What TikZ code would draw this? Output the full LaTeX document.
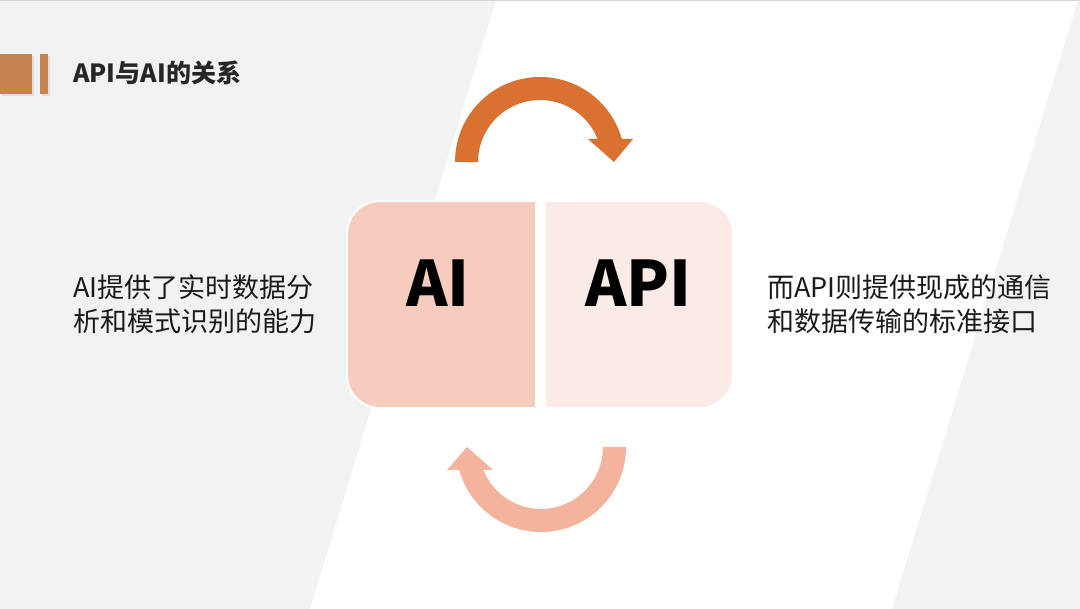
\documentclass[tikz,border=0pt]{standalone}
\usepackage{fontspec}
\setmainfont{Noto Sans CJK SC}
\definecolor{bggray}{HTML}{F2F2F2}
\definecolor{topline}{HTML}{D6D6D6}
\definecolor{titleor}{HTML}{C6854F}
\definecolor{titletxt}{HTML}{262626}
\definecolor{arcor}{HTML}{D97230}
\definecolor{arcsal}{HTML}{F3B39C}
\definecolor{boxl}{HTML}{F6CCBF}
\definecolor{boxr}{HTML}{FAEBE7}
\definecolor{sidetxt}{HTML}{1A1A1A}
\tikzset{
  sidetext/.style={anchor=west, align=left, text=sidetxt, inner sep=0pt,
    font=\fontsize{19.2pt}{24.2pt}\selectfont},
  bigtext/.style={anchor=base, text=black, inner sep=0pt,
    font=\fontsize{44.6pt}{50pt}\selectfont\bfseries},
  halfbox/.style={draw=white, line width=1.4pt}
}
\begin{document}
\begin{tikzpicture}[x=0.025cm, y=-0.025cm]
\useasboundingbox (0,0) rectangle (1080,609);
% background
\fill[bggray] (0,0) rectangle (1080,609);
\fill[white] (496,0) -- (1078,0) -- (892,609) -- (310,609) -- cycle;
\draw[topline, line width=1.2pt] (0,0.6) -- (1080,0.6);
% title marker
\fill[black, opacity=0.08] (2,56) rectangle (34,96);
\fill[black, opacity=0.08] (42,56) rectangle (50,96);
\fill[titleor] (0,54) rectangle (32,94);
\fill[titleor] (40,54) rectangle (48,94);
\node[anchor=west, inner sep=0pt, text=titletxt,
  font=\fontsize{17.8pt}{21pt}\selectfont\bfseries] (title) at (73,73) {API与AI的关系};
% box halves
\draw[halfbox, fill=boxl] (536,201) -- (380,201)
  arc[start angle=270, end angle=180, radius=33] -- (347,375)
  arc[start angle=180, end angle=90, radius=33] -- (536,408) -- cycle;
\draw[halfbox, fill=boxr] (545,201) -- (700,201)
  arc[start angle=270, end angle=360, radius=33] -- (733,375)
  arc[start angle=0, end angle=90, radius=33] -- (545,408) -- cycle;
\node[bigtext] (ai) at (438,307) {AI};
\node[bigtext] (api) at (638.5,307) {API};
% top arrow
\fill[arcor] (455,162) arc[start angle=180, end angle=344.3, radius=85]
  -- (633,139) -- (614,162) -- (588,139) -- (597.6,139)
  arc[start angle=338.2, end angle=180, radius=62] -- cycle;
% bottom arrow
\fill[arcsal] (626,447) arc[start angle=0, end angle=164.3, radius=85]
  -- (447,470) -- (467,447) -- (493,470) -- (483.4,470)
  arc[start angle=158.2, end angle=0, radius=62] -- cycle;
% side texts
\node[sidetext] (lefttext) at (73,304) {AI提供了实时数据分\\析和模式识别的能力};
\node[sidetext] (righttext) at (767,304) {而API则提供现成的通信\\和数据传输的标准接口};
\end{tikzpicture}
\end{document}
